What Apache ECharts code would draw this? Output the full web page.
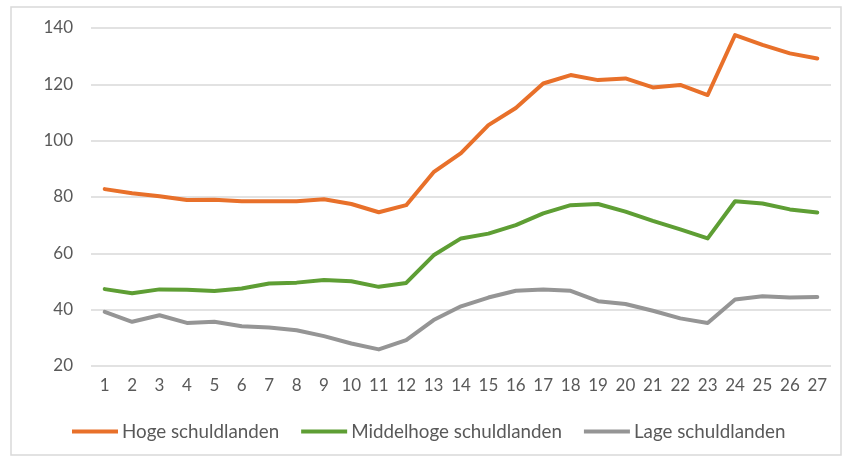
<!DOCTYPE html>
<html>
<head>
<meta charset="utf-8">
<script src="https://cdn.jsdelivr.net/npm/echarts@6/dist/echarts.min.js"></script>
<style>
  html, body { margin: 0; padding: 0; background: #fff; }
  #chart { width: 844px; height: 462px; }
</style>
</head>
<body>
<div id="chart"></div>
<script>
const categories = ['1','2','3','4','5','6','7','8','9','10','11','12','13','14','15','16','17','18','19','20','21','22','23','24','25','26','27'];

const hoge = [82.8, 81.3, 80.3, 78.9, 79, 78.5, 78.5, 78.5, 79.2, 77.5, 74.6, 77.1, 88.8, 95.6, 105.5, 111.6, 120.3, 123.3, 121.5, 122.1, 118.9, 119.8, 116.2, 137.5, 134, 131, 129.2];
const middelhoge = [47.3, 45.8, 47.2, 47.1, 46.6, 47.5, 49.3, 49.6, 50.5, 50.1, 48.1, 49.5, 59.3, 65.3, 67, 70, 74.2, 77.1, 77.5, 74.8, 71.5, 68.5, 65.3, 78.5, 77.7, 75.6, 74.5];
const lage = [39.2, 35.7, 38, 35.3, 35.7, 34.1, 33.7, 32.7, 30.6, 28, 25.9, 29.2, 36.3, 41.2, 44.3, 46.7, 47.2, 46.7, 43, 42, 39.6, 36.9, 35.3, 43.6, 44.8, 44.3, 44.5];

const seriesNames = ['Hoge schuldlanden', 'Middelhoge schuldlanden', 'Lage schuldlanden'];
const colors = ['#E8702A', '#5E9E34', '#959595'];

const font = 'Lato, "Open Sans", sans-serif';

function makeLine(name, data, color) {
  return {
    name: name,
    type: 'line',
    data: data,
    symbol: 'none',
    smooth: false,
    lineStyle: { width: 4, color: color, join: 'round', cap: 'round' },
    itemStyle: { color: color },
  };
}

const chart = echarts.init(document.getElementById('chart'));
chart.setOption({
  animation: false,
  textStyle: { fontFamily: font },
  graphic: [{
    type: 'rect',
    shape: { x: 11, y: 7, width: 830, height: 448 },
    style: { fill: 'none', stroke: '#d9d9d9', lineWidth: 1.5 },
    silent: true
  }],
  grid: { left: 91, right: 13, top: 28, bottom: 96 },
  legend: {
    bottom: 16,
    left: 67,
    itemWidth: 46,
    itemHeight: 4,
    itemGap: 22,
    icon: 'rect',
    textStyle: { color: '#595959', fontSize: 18.8, fontFamily: font, padding: [0, 0, 0, -1] },
    data: seriesNames
  },
  xAxis: {
    type: 'category',
    data: categories,
    boundaryGap: true,
    axisLine: { show: false },
    axisTick: { show: false },
    axisLabel: { color: '#595959', fontSize: 17, margin: 11, interval: 0 }
  },
  yAxis: {
    type: 'value',
    min: 20,
    max: 140,
    interval: 20,
    axisLine: { show: false },
    axisTick: { show: false },
    axisLabel: { color: '#595959', fontSize: 17, margin: 18 },
    splitLine: { lineStyle: { color: '#d9d9d9', width: 1.5 } }
  },
  series: [
    makeLine(seriesNames[0], hoge, colors[0]),
    makeLine(seriesNames[1], middelhoge, colors[1]),
    makeLine(seriesNames[2], lage, colors[2])
  ]
});
</script>
</body>
</html>
